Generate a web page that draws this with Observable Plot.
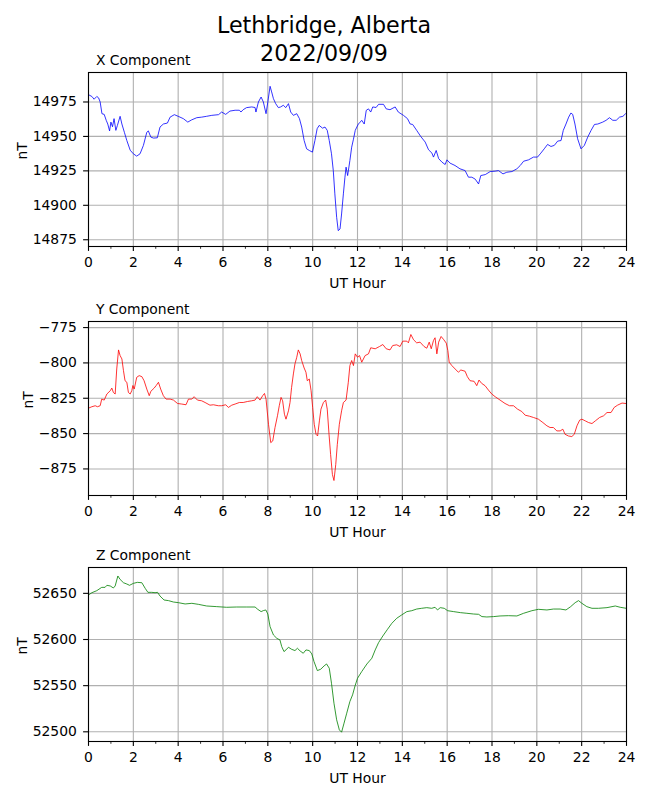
<!DOCTYPE html>
<html>
<head>
<meta charset="utf-8">
<script src="https://cdn.jsdelivr.net/npm/d3@7"></script>
<script src="https://cdn.jsdelivr.net/npm/@observablehq/plot@0.6"></script>
<style>
  body { margin: 0; background: white; }
  #wrap { position: relative; width: 650px; height: 800px; background: white; font-family: "DejaVu Sans", sans-serif; }
  #title { position: absolute; left: 0; top: 11.8px; width: 648px; text-align: center; font-size: 22.2px; line-height: 27.7px; color: black; }
  .panel { position: absolute; left: 0; }
</style>
</head>
<body>
<div id="wrap">
  <div id="title"><span id="t1"></span><br><span id="t2"></span></div>
</div>
<script>
// ---- Data ----
const titleLine1 = "Lethbridge, Alberta";
const titleLine2 = "2022/09/09";
const componentNames = ["X Component", "Y Component", "Z Component"];
const xLabel = "UT Hour";
const yLabel = "nT";

const majorHours = [0, 2, 4, 6, 8, 10, 12, 14, 16, 18, 20, 22, 24];
const minorHours = [1, 3, 5, 7, 9, 11, 13, 15, 17, 19, 21, 23];

const ticksX = [14875, 14900, 14925, 14950, 14975];
const ticksY = [-875, -850, -825, -800, -775];
const ticksZ = [52500, 52550, 52600, 52650];

const hoursX = [0,0.15,0.25,0.37,0.45,0.52,0.6,0.7,0.79,0.86,0.94,1.0,1.07,1.14,1.22,1.29,1.41,1.49,1.6,1.71,1.86,2.0,2.15,2.3,2.45,2.6,2.67,2.78,2.9,3.07,3.19,3.34,3.52,3.64,3.83,4.0,4.23,4.43,4.6,4.83,5.05,5.27,5.5,5.8,5.94,6.12,6.31,6.54,6.73,6.8,6.9,7.05,7.28,7.43,7.47,7.58,7.7,7.8,7.92,8.0,8.1,8.17,8.25,8.35,8.47,8.57,8.69,8.8,8.92,9.02,9.14,9.29,9.41,9.51,9.62,9.73,9.85,9.99,10.1,10.2,10.29,10.44,10.55,10.65,10.74,10.84,10.92,10.99,11.07,11.14,11.22,11.29,11.37,11.44,11.49,11.56,11.66,11.74,11.82,11.9,11.97,12.04,12.12,12.19,12.3,12.39,12.49,12.59,12.68,12.83,12.94,13.16,13.28,13.45,13.68,13.82,14.05,14.23,14.35,14.46,14.64,14.82,15.02,15.17,15.32,15.39,15.51,15.62,15.77,15.91,15.99,16.13,16.35,16.57,16.8,16.95,17.1,17.25,17.4,17.5,17.7,17.92,18.14,18.29,18.49,18.66,18.89,19.11,19.26,19.41,19.63,19.85,20.03,20.18,20.33,20.48,20.63,20.78,20.93,21.08,21.18,21.3,21.42,21.52,21.6,21.7,21.82,21.97,22.12,22.27,22.42,22.57,22.72,22.94,23.09,23.24,23.39,23.54,23.69,23.84,23.96];
const valuesX = [14980.3,14979,14977,14979,14978,14975,14966.5,14966,14961.7,14959,14954,14960.4,14957,14962.9,14954.4,14958,14964.6,14959,14953,14947,14940,14937.4,14935.7,14937.4,14943.5,14953,14954,14949.5,14948.8,14949,14956.8,14959,14959.7,14964,14965.8,14964.6,14962.9,14960.4,14962,14963.6,14964,14964.6,14965.3,14965.8,14967.7,14966,14968.4,14969,14969,14967.7,14969.4,14970.9,14971.4,14971,14967.7,14975,14978.6,14975,14966.5,14975,14986.4,14982.3,14977.4,14973.8,14970.9,14971.4,14972.6,14970.9,14973.8,14967.7,14965.3,14966.5,14962.9,14956.8,14947,14941,14939.8,14938.6,14947,14955.6,14958,14956,14956.8,14954.4,14947,14937.4,14925.2,14908.3,14891.3,14881.6,14882.8,14893.7,14908.3,14920.4,14927.7,14921.6,14932.5,14942.2,14948,14954.4,14956.8,14959,14960.4,14961.7,14959,14968.9,14970,14967.7,14971.4,14971,14973.3,14973.3,14970,14969.4,14971.4,14967.7,14965.3,14962.9,14959,14958.7,14954.4,14950,14945.9,14940.3,14937.9,14935,14939.8,14933.9,14931.3,14929.6,14933,14930.6,14928.9,14926.5,14925.2,14920.4,14920.4,14919,14915.5,14921.6,14922.3,14924.5,14924.8,14925.2,14922.8,14924,14924.5,14926.5,14928.9,14932,14933,14935,14935,14937.9,14941,14944.2,14942.7,14943.5,14946.6,14947,14954.4,14959,14964,14967,14966,14959,14948.3,14941,14943.5,14949.5,14954.4,14958.7,14959,14960.4,14961.7,14963.6,14961.7,14961.7,14964,14964.6,14966.5];

const hoursY = [0,0.15,0.3,0.4,0.52,0.59,0.7,0.82,0.97,1.04,1.11,1.19,1.26,1.34,1.41,1.49,1.56,1.63,1.71,1.78,1.86,1.93,1.98,2.04,2.15,2.26,2.38,2.48,2.6,2.71,2.78,2.93,3.02,3.12,3.22,3.34,3.46,3.64,3.79,3.97,4.16,4.35,4.46,4.61,4.71,4.86,5.05,5.2,5.42,5.57,5.79,5.94,6.12,6.24,6.39,6.54,6.73,6.9,7.09,7.28,7.43,7.53,7.65,7.77,7.85,7.92,8.03,8.13,8.22,8.32,8.43,8.51,8.59,8.66,8.74,8.81,8.92,8.99,9.06,9.14,9.21,9.29,9.36,9.44,9.51,9.62,9.7,9.76,9.85,9.93,10.0,10.07,10.15,10.22,10.3,10.37,10.48,10.58,10.65,10.73,10.8,10.88,10.95,11.03,11.1,11.19,11.29,11.37,11.49,11.59,11.66,11.74,11.82,11.9,12.0,12.09,12.19,12.34,12.49,12.59,12.79,12.98,13.13,13.28,13.45,13.57,13.75,13.9,14.02,14.2,14.27,14.38,14.5,14.64,14.79,14.97,15.09,15.2,15.29,15.39,15.46,15.54,15.62,15.73,15.85,15.96,16.03,16.09,16.21,16.4,16.5,16.61,16.8,16.9,17.02,17.2,17.32,17.42,17.54,17.69,17.84,17.99,18.14,18.36,18.58,18.78,18.96,19.14,19.33,19.48,19.67,19.85,20.07,20.27,20.45,20.59,20.74,20.89,21.04,21.16,21.26,21.41,21.56,21.67,21.79,21.91,22.01,22.16,22.31,22.46,22.61,22.8,22.98,23.13,23.31,23.45,23.6,23.8,23.96];
const valuesY = [-832,-831,-830.3,-831,-830.3,-825.6,-826.3,-822,-819.7,-817.8,-820.9,-822,-804.3,-790.8,-794.8,-797.2,-805.5,-812.6,-813.7,-820.9,-822,-819.7,-816,-818.5,-810.2,-809,-809.7,-812.6,-818.5,-823.2,-820.1,-817.8,-816,-813.7,-818.5,-823.2,-825.6,-825.6,-826.3,-828.7,-829.1,-829.6,-825.6,-825.6,-823.9,-826.3,-826.8,-828,-829.9,-829.6,-830.3,-830.3,-829.6,-831.5,-829.9,-829.1,-828,-828,-827.3,-826.8,-826.3,-823.9,-826.3,-823.2,-821.6,-825.6,-843.4,-856.4,-855.2,-845.7,-837.4,-830.3,-824.4,-826.8,-836.3,-839.8,-833.9,-828,-817.3,-807.8,-800.7,-796,-790.8,-793.6,-798.3,-803.6,-806.6,-812.6,-811.4,-819.7,-831.5,-843.4,-850.5,-851.7,-841,-832.7,-828,-826.3,-832.7,-850.5,-864.7,-878.9,-883.2,-871.8,-857.6,-843.4,-833.9,-828,-826.3,-813.7,-801.9,-798.3,-801.9,-793.6,-796,-794.8,-799.5,-794.8,-793.6,-789.3,-790,-788.4,-787,-790,-790.8,-787.7,-787.2,-788.4,-784.6,-784.6,-785.8,-779.9,-783.6,-785.8,-785.3,-788.4,-789.6,-785.3,-790,-784.1,-782.2,-793.6,-785.3,-781.3,-783.6,-786,-791.2,-799.5,-801.9,-805,-806.6,-805,-805.9,-809.7,-812.6,-813,-816.1,-812.1,-814.5,-816.1,-819.2,-822,-823.9,-826.3,-828.7,-830.3,-830.3,-832.7,-834.4,-837,-837.7,-838.6,-839.8,-842.2,-844.5,-845.7,-845.7,-848.1,-848.1,-846.9,-850.5,-851.7,-852.1,-850.5,-844.5,-840.5,-839.8,-841,-842.2,-842.9,-841,-838.6,-837.4,-835.1,-835.1,-831.5,-829.9,-828.4,-828.7];

const hoursZ = [0,0.15,0.37,0.59,0.74,0.82,0.97,1.11,1.19,1.31,1.41,1.56,1.71,1.83,2.0,2.18,2.38,2.53,2.65,2.82,2.97,3.08,3.19,3.37,3.57,3.79,4.01,4.31,4.61,4.9,5.27,5.72,6.16,6.61,7.06,7.43,7.55,7.7,7.8,7.91,8.0,8.1,8.25,8.4,8.54,8.62,8.72,8.81,8.92,9.06,9.21,9.32,9.44,9.58,9.7,9.85,9.96,10.06,10.21,10.36,10.51,10.62,10.74,10.84,10.95,11.07,11.19,11.29,11.4,11.52,11.66,11.78,11.89,12.0,12.19,12.42,12.64,12.79,12.94,13.13,13.34,13.53,13.75,13.97,14.2,14.42,14.64,14.86,15.09,15.31,15.46,15.57,15.69,15.87,16.02,16.29,16.59,16.88,17.18,17.4,17.55,17.77,18.07,18.36,18.73,19.11,19.41,19.78,20.07,20.45,20.74,21.04,21.3,21.51,21.71,21.86,22.01,22.23,22.46,22.75,23.13,23.5,23.72,23.99];
const valuesZ = [52648.2,52650.7,52652.9,52656.5,52656.5,52658.7,52658,52655.8,52658,52668.8,52665.1,52661.5,52660.1,52658.7,52660.8,52661.9,52661.5,52655.4,52651.1,52651.1,52650.7,52651.1,52647.1,52642.8,52642.1,52640.6,52639.9,52638.5,52639.2,52638.1,52636.3,52635.6,52634.9,52635.2,52635.2,52635.2,52632.7,52630.2,52631.3,52632,52627.6,52613.9,52604.9,52601.3,52599.5,52592.3,52586.9,52588.7,52591.6,52589.4,52588,52590.5,52587.6,52585.1,52588.7,52588,52584.4,52576.1,52566.3,52567.8,52571.4,52573.5,52568.9,52552.6,52531,52513,52502.1,52499.6,52509.4,52520.2,52532.8,52540,52549.7,52558,52565.3,52573.5,52579.7,52588.7,52596.6,52603.8,52611.1,52617.5,52623,52626.6,52630.2,52631.2,52633,52633.8,52634.5,52633.8,52634.9,52632,52634.5,52633.8,52631.2,52630.2,52629.1,52628.4,52627.6,52627.3,52624.8,52624.4,52624.8,52625.5,52625.8,52625.5,52628.4,52631.2,52632.7,52632,52633,52633,52632,52635.6,52639.9,52642.1,52639.2,52635.6,52633.8,52633.8,52634.5,52636.3,52634.9,52633.8];

// ---- Drawing ----
document.getElementById("t1").textContent = titleLine1;
document.getElementById("t2").textContent = titleLine2;

const fmt = d => d < 0 ? "\u2212" + Math.abs(d) : String(d);

function panel({hours, values, color, domain, ticks, name, top, labelDx}) {
  const data = hours.map((h, i) => ({h, v: values[i]}));
  const chart = Plot.plot({
    width: 650,
    height: 250,
    marginLeft: 88,
    marginRight: 24,
    marginTop: 24,
    marginBottom: 52,
    style: {fontFamily: "DejaVu Sans", fontSize: "13.9px", background: "transparent", overflow: "visible", color: "black"},
    x: {domain: [0, 24]},
    y: {domain},
    marks: [
      Plot.gridX(majorHours, {stroke: "#b0b0b0", strokeOpacity: 1, strokeWidth: 1.1}),
      Plot.gridY(ticks, {stroke: "#b0b0b0", strokeOpacity: 1, strokeWidth: 1.1}),
      Plot.line(data, {x: "h", y: "v", stroke: color, strokeWidth: 0.8}),
      Plot.frame({stroke: "black", strokeWidth: 1.1}),
      Plot.axisX(majorHours, {tickSize: 4.9, tickPadding: 6, label: null, strokeWidth: 1.1, tickFormat: d => String(d)}),
      Plot.axisX(minorHours, {tickSize: 2.8, text: null, label: null, strokeWidth: 0.8}),
      Plot.axisY(ticks, {tickSize: 4.9, tickPadding: 6.7, label: null, strokeWidth: 1.1, tickFormat: fmt}),
      Plot.text([name], {frameAnchor: "top-left", textAnchor: "start", lineAnchor: "bottom", dx: 7.4, dy: -8, fill: "black"}),
      Plot.text([xLabel], {frameAnchor: "bottom", lineAnchor: "bottom", dy: 41.6, fill: "black"}),
      Plot.text([yLabel], {frameAnchor: "left", rotate: -90, dx: labelDx, fill: "black"})
    ]
  });
  chart.classList.add("panel");
  chart.style.top = top + "px";
  document.getElementById("wrap").appendChild(chart);
}

panel({hours: hoursX, values: valuesX, color: "blue", domain: [14870.1, 14996.4], ticks: ticksX, name: componentNames[0], top: 48.3, labelDx: -66});
panel({hours: hoursY, values: valuesY, color: "red", domain: [-893.8, -770.7], ticks: ticksY, name: componentNames[1], top: 296.7, labelDx: -60});
panel({hours: hoursZ, values: valuesZ, color: "green", domain: [52489.5, 52678], ticks: ticksZ, name: componentNames[2], top: 543.3, labelDx: -66});
</script>
</body>
</html>
